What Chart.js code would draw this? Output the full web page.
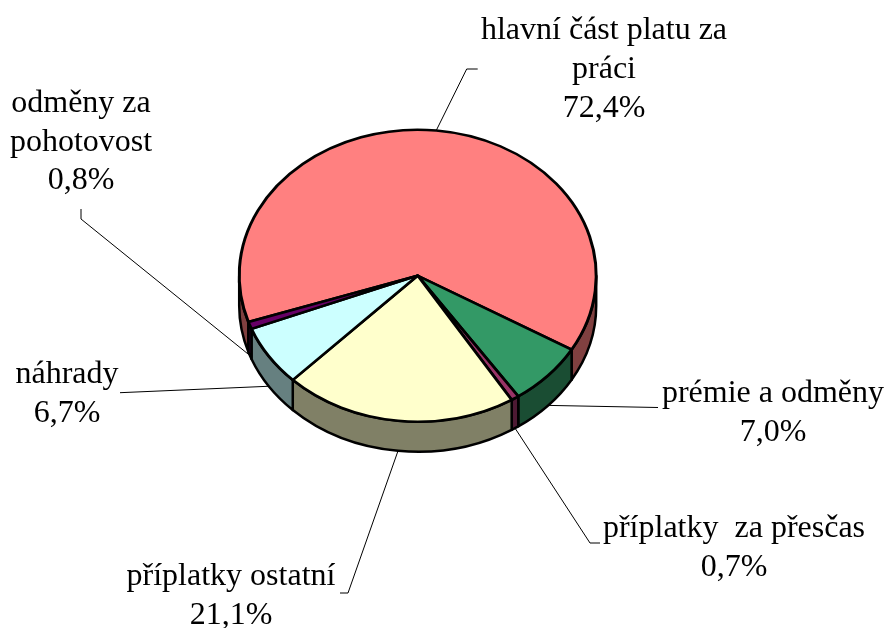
<!DOCTYPE html>
<html>
<head>
<meta charset="utf-8">
<script src="https://cdn.jsdelivr.net/npm/chart.js@4.4.0/dist/chart.umd.min.js"></script>
<style>
  html, body { margin: 0; padding: 0; background: #fff; }
</style>
</head>
<body>
<canvas id="mzdaPieChart" width="886" height="628"></canvas>
<script>
// Kategorie (řádky popisku) a hodnoty výsečí
const categories = [
  ["hlavní část platu za", "práci"],
  ["prémie a odměny"],
  ["příplatky  za přesčas"],
  ["příplatky ostatní"],
  ["náhrady"],
  ["odměny za", "pohotovost"],
];
// velikost výsečí
const values = [63.4, 7.0, 0.7, 21.1, 6.7, 0.8];
// procenta tak, jak jsou napsána v popiscích
const percentLabels = ["72,4%", "7,0%", "0,7%", "21,1%", "6,7%", "0,8%"];

const topColors = ["#FF8080", "#339966", "#993366", "#FFFFCC", "#CCFFFF", "#660066"];
const sideColors = ["#804040", "#1A4D33", "#4D1A33", "#808066", "#668080", "#330033"];

// rozmístění popisků (střed textu, první účaří, lom a konec vodicí čáry)
const labelLayout = [
  { x: 604, y: 39, elbow: [466.7, 69], end: [477.7, 69] },
  { x: 773, y: 402, elbow: null, end: [658, 407.5] },
  { x: 734, y: 537, elbow: [590, 543], end: [600, 543] },
  { x: 231, y: 585, elbow: [348, 593], end: [340, 593] },
  { x: 67, y: 383, elbow: null, end: [120, 392.7] },
  { x: 81, y: 111.7, elbow: [81, 219], end: [81, 209] },
];

const TILT = 0.818; // zploštění elipsy
const DEPTH = 30; // výška boční stěny
const LINE_HEIGHT = 38.8;

// pomocná funkce – průnik úhlu výseče s přední polovinou (0..PI)
function frontParts(a, b) {
  const parts = [];
  for (let n = -1; n <= 2; n++) {
    const lo = Math.max(a, n * 2 * Math.PI);
    const hi = Math.min(b, n * 2 * Math.PI + Math.PI);
    if (hi > lo) parts.push([lo, hi]);
  }
  return parts;
}

const pie3d = {
  id: "pie3d",
  beforeDatasetsDraw(chart) {
    const ctx = chart.ctx;
    const arcs = chart.getDatasetMeta(0).data;
    // boční stěny
    arcs.forEach((arc, i) => {
      const { x, y, outerRadius: r, startAngle, endAngle } = arc;
      frontParts(startAngle, endAngle).forEach(([a, b]) => {
        ctx.save();
        ctx.beginPath();
        ctx.ellipse(x, y, r, r * TILT, 0, a, b);
        ctx.ellipse(x, y + DEPTH, r, r * TILT, 0, b, a, true);
        ctx.closePath();
        ctx.fillStyle = sideColors[i];
        ctx.fill();
        ctx.lineWidth = 2.5;
        ctx.lineJoin = "round";
        ctx.strokeStyle = "#000";
        ctx.stroke();
        ctx.restore();
      });
    });
    // zploštění horní plochy
    const { x, y } = arcs[0];
    ctx.save();
    ctx.translate(x, y);
    ctx.scale(1, TILT);
    ctx.translate(-x, -y);
  },
  afterDatasetsDraw(chart) {
    const ctx = chart.ctx;
    ctx.restore();
    const arcs = chart.getDatasetMeta(0).data;
    ctx.save();
    ctx.strokeStyle = "#000";
    ctx.lineWidth = 1;
    ctx.fillStyle = "#000";
    ctx.font = '32px "Liberation Serif", "Times New Roman", serif';
    ctx.textAlign = "center";
    ctx.textBaseline = "alphabetic";
    arcs.forEach((arc, i) => {
      const { x, y, outerRadius: r, startAngle, endAngle } = arc;
      const mid = (startAngle + endAngle) / 2;
      const s = Math.sin(mid);
      const px = x + r * Math.cos(mid);
      const py = y + r * TILT * s + (s > 0 ? DEPTH : 0);
      const lay = labelLayout[i];
      ctx.beginPath();
      ctx.moveTo(px, py);
      if (lay.elbow) ctx.lineTo(lay.elbow[0], lay.elbow[1]);
      ctx.lineTo(lay.end[0], lay.end[1]);
      ctx.stroke();

      const lines = categories[i].concat([percentLabels[i]]);
      lines.forEach((t, j) => {
        ctx.fillText(t, lay.x, lay.y + j * LINE_HEIGHT);
      });
    });
    ctx.restore();
  },
};

document.addEventListener("DOMContentLoaded", function () {
  const ctx = document.getElementById("mzdaPieChart").getContext("2d");
  new Chart(ctx, {
    type: "pie",
    data: {
      labels: categories.map((c) => c.join(" ")),
      datasets: [
        {
          data: values,
          backgroundColor: topColors,
          borderColor: "#000",
          borderWidth: 3,
          borderJoinStyle: "round",
        },
      ],
    },
    options: {
      responsive: false,
      animation: false,
      rotation: 251.5,
      radius: 178.5,
      layout: { padding: { left: 0, top: 0, right: 50.6, bottom: 76.6 } },
      plugins: {
        legend: { display: false },
        tooltip: { enabled: false },
      },
    },
    plugins: [pie3d],
  });
});
</script>
</body>
</html>
